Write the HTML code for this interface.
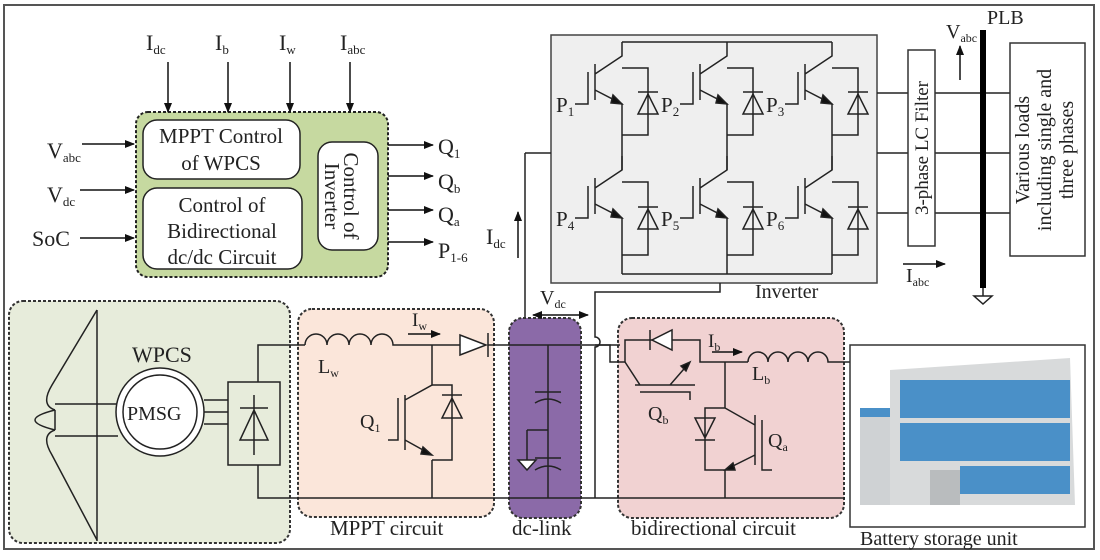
<!DOCTYPE html>
<html><head><meta charset="utf-8"><style>
html,body{margin:0;padding:0;background:#fff}
svg{display:block}
svg text, svg tspan{font-family:"Liberation Serif","Times New Roman","DejaVu Serif",serif;fill:#222}
</style></head><body>
<svg width="1100" height="560" viewBox="0 0 1100 560" xmlns="http://www.w3.org/2000/svg">
<defs>
<marker id="ah" markerWidth="10" markerHeight="10" refX="9" refY="5" orient="auto" markerUnits="userSpaceOnUse"><path d="M0,1 L10,5 L0,9 z" fill="#111"/></marker>
<marker id="as" markerWidth="10" markerHeight="10" refX="1" refY="5" orient="auto" markerUnits="userSpaceOnUse"><path d="M10,1 L0,5 L10,9 z" fill="#111"/></marker>
<g id="igbt" stroke="#222" stroke-width="1.5" fill="none">
 <path d="M27,0 L27,14 L0,32 M0,22 L0,58 M0,48 L27,62 L27,74"/>
 <path d="M-7,30 L-7,62 L-20,62"/>
 <path d="M27,62 l-9,-9 l-2,8 z" fill="#111"/>
</g>
</defs>
<rect x="4" y="5" width="1090" height="544" fill="#fff" stroke="#555" stroke-width="2"/>

<rect x="136" y="112" width="252" height="165" rx="12" fill="#c6d9a0" stroke="#222" stroke-width="2" stroke-dasharray="3,2"/>
<rect x="143" y="120" width="157" height="59" rx="14" fill="#fff" stroke="#222" stroke-width="1.5"/>
<rect x="143" y="188" width="159" height="81" rx="14" fill="#fff" stroke="#222" stroke-width="1.5"/>
<rect x="318" y="142" width="60" height="108" rx="14" fill="#fff" stroke="#222" stroke-width="1.5"/>
<text x="221" y="143" font-size="21" text-anchor="middle">MPPT Control</text>
<text x="221" y="170" font-size="21" text-anchor="middle">of WPCS</text>
<text x="222" y="212" font-size="21" text-anchor="middle">Control of</text>
<text x="222" y="238" font-size="21" text-anchor="middle">Bidirectional</text>
<text x="222" y="264" font-size="21" text-anchor="middle">dc/dc Circuit</text>
<text transform="translate(344,196) rotate(90)" font-size="21" text-anchor="middle">Control of</text>
<text transform="translate(325,196) rotate(90)" font-size="21" text-anchor="middle">Inverter</text>

<g stroke="#111" stroke-width="1.5" marker-end="url(#ah)">
<line x1="168" y1="62" x2="168" y2="112"/><line x1="228" y1="62" x2="228" y2="112"/>
<line x1="290" y1="62" x2="290" y2="112"/><line x1="350" y1="62" x2="350" y2="112"/>
<line x1="82" y1="144" x2="134" y2="144"/><line x1="80" y1="190" x2="134" y2="190"/>
<line x1="80" y1="238" x2="134" y2="238"/>
<line x1="388" y1="145" x2="433" y2="145"/><line x1="388" y1="176" x2="433" y2="176"/>
<line x1="388" y1="210" x2="433" y2="210"/><line x1="388" y1="242" x2="433" y2="242"/>
<line x1="518" y1="258" x2="518" y2="212"/>
</g>
<g font-size="22">
<text x="146" y="50">I<tspan font-size="13" dy="4">dc</tspan></text>
<text x="215" y="50">I<tspan font-size="13" dy="4">b</tspan></text>
<text x="279" y="50">I<tspan font-size="13" dy="4">w</tspan></text>
<text x="340" y="50">I<tspan font-size="13" dy="4">abc</tspan></text>
<text x="47" y="158">V<tspan font-size="13" dy="4">abc</tspan></text>
<text x="47" y="202">V<tspan font-size="13" dy="4">dc</tspan></text>
<text x="32" y="246">SoC</text>
<text x="438" y="154">Q<tspan font-size="13" dy="4">1</tspan></text>
<text x="438" y="189">Q<tspan font-size="13" dy="4">b</tspan></text>
<text x="438" y="222">Q<tspan font-size="13" dy="4">a</tspan></text>
<text x="438" y="258">P<tspan font-size="13" dy="4">1-6</tspan></text>
<text x="486" y="244">I<tspan font-size="13" dy="4">dc</tspan></text>
</g>

<rect x="551" y="35" width="326" height="248" fill="#efefef" stroke="#444" stroke-width="1.5"/>
<g stroke="#222" stroke-width="1.5" fill="none">
<path d="M622,42 L832,42 M622,274 L832,274"/>
<path d="M525,153 L551,153 M525,153 L525,345"/>
<path d="M720,283 L720,292 L595,292 L595,337 a5,5 0 0 1 0,10 L595,498"/>
</g>
<use href="#igbt" x="595" y="42"/><use href="#igbt" x="595" y="156"/>
<use href="#igbt" x="700" y="42"/><use href="#igbt" x="700" y="156"/>
<use href="#igbt" x="805" y="42"/><use href="#igbt" x="805" y="156"/>
<g stroke="#222" stroke-width="1.5" fill="none">
<path d="M622,116 L622,170 M727,116 L727,170 M832,116 L832,170 M622,230 L622,274 M727,230 L727,274 M832,230 L832,274"/>
<path d="M622,68 L648,68 L648,135 L622,135 M727,68 L753,68 L753,135 L727,135 M832,68 L858,68 L858,135 L832,135"/>
<path d="M622,182 L648,182 L648,255 L622,255 M727,182 L753,182 L753,255 L727,255 M832,182 L858,182 L858,255 L832,255"/>
<path d="M638,92 L658,92 M638,114 L658,114 L648,94 z M743,92 L763,92 M743,114 L763,114 L753,94 z M848,92 L868,92 M848,114 L868,114 L858,94 z"/>
<path d="M638,207 L658,207 M638,229 L658,229 L648,209 z M743,207 L763,207 M743,229 L763,229 L753,209 z M848,207 L868,207 M848,229 L868,229 L858,209 z"/>
<path d="M877,93 L1010,93 M877,153 L1010,153 M877,213 L1010,213"/>
</g>
<g font-size="21">
<text x="556" y="112">P<tspan font-size="13" dy="4">1</tspan></text>
<text x="661" y="112">P<tspan font-size="13" dy="4">2</tspan></text>
<text x="766" y="112">P<tspan font-size="13" dy="4">3</tspan></text>
<text x="556" y="226">P<tspan font-size="13" dy="4">4</tspan></text>
<text x="661" y="226">P<tspan font-size="13" dy="4">5</tspan></text>
<text x="766" y="226">P<tspan font-size="13" dy="4">6</tspan></text>
<text x="755" y="298" font-size="20">Inverter</text>
</g>

<rect x="908" y="50" width="27" height="196" fill="#fff" stroke="#333" stroke-width="1.5"/>
<text transform="translate(928,148) rotate(-90)" font-size="19" text-anchor="middle">3-phase LC Filter</text>
<line x1="983" y1="30" x2="983" y2="288" stroke="#000" stroke-width="6"/>
<path d="M983,288 L983,296 M974,296 L992,296 L983,304 z" stroke="#222" stroke-width="1.5" fill="#fff"/>
<text x="987" y="24" font-size="20">PLB</text>
<line x1="960" y1="80" x2="960" y2="46" stroke="#111" stroke-width="1.5" marker-end="url(#ah)"/>
<text x="946" y="38" font-size="20">V<tspan font-size="12" dy="4">abc</tspan></text>
<line x1="903" y1="264" x2="945" y2="264" stroke="#111" stroke-width="1.5" marker-end="url(#ah)"/>
<text x="906" y="282" font-size="20">I<tspan font-size="12" dy="4">abc</tspan></text>
<rect x="1010" y="43" width="75" height="213" fill="#fff" stroke="#333" stroke-width="1.5"/>
<g font-size="20" text-anchor="middle">
<text transform="translate(1029,150) rotate(-90)">Various loads</text>
<text transform="translate(1051,150) rotate(-90)">including single and</text>
<text transform="translate(1073,150) rotate(-90)">three phases</text>
</g>

<rect x="9" y="301" width="281" height="242" rx="14" fill="#e7ecdb" stroke="#333" stroke-width="2" stroke-dasharray="3,2"/>
<rect x="298" y="309" width="196" height="208" rx="14" fill="#fbe6da" stroke="#333" stroke-width="2" stroke-dasharray="3,2"/>
<rect x="509" y="318" width="72" height="200" rx="14" fill="#8b6aa8" stroke="#333" stroke-width="2" stroke-dasharray="3,2"/>
<rect x="618" y="318" width="226" height="200" rx="14" fill="#f1d2d2" stroke="#333" stroke-width="2" stroke-dasharray="3,2"/>
<text x="132" y="362" font-size="22">WPCS</text>
<text x="330" y="535" font-size="21">MPPT circuit</text>
<text x="512" y="535" font-size="21">dc-link</text>
<text x="631" y="535" font-size="21">bidirectional circuit</text>

<g stroke="#222" stroke-width="1.5" fill="none">
<path d="M97,310 L97,541"/>
<path d="M97,310 L52,385 Q40,405 55,410 M97,540 L52,455 Q40,435 55,430"/>
<path d="M55,410 Q15,420 55,430 M55,410 L55,430"/>
<path d="M55,404 L118,404 M55,436 L118,436"/>
<circle cx="160" cy="412" r="44" fill="#fff"/><circle cx="160" cy="412" r="37" fill="#fff"/>
<path d="M204,400 L228,400 M204,412 L228,412 M204,424 L228,424"/>
<rect x="228" y="382" width="52" height="83" fill="#e7ecdb"/>
<path d="M254,395 L254,455 M240,408 L268,408 M240,440 L268,440 L254,410 z"/>
<path d="M258,382 L258,345 L305,345 M258,465 L258,498 L845,498"/>
<path d="M305,345 a11,11 0 0 1 22,0 a11,11 0 0 1 22,0 a11,11 0 0 1 22,0 a11,11 0 0 1 22,0 L460,345 M488,345 L620,345"/>
<path d="M460,335 L460,355 L486,345 z M488,333 L488,357" fill="#fff"/>
<path d="M432,345 L432,385 L405,400 M405,395 L405,450 M432,460 L432,498 M398,398 L398,440 L388,440 M405,440 L432,455"/>
<path d="M432,385 L452,385 L452,460 L432,460 M442,395 L462,395 M442,418 L462,418 L452,398 z"/>
<path d="M432,455 l-9,-8 l-2,7 z" fill="#111"/>
<path d="M548,345 L548,498 M535,403 Q548,395 561,403 M535,392 L561,392 M535,470 Q548,462 561,470 M535,458 L561,458 M527,430 L548,430 M527,430 L527,460"/>
<path d="M518,460 L536,460 L527,470 z" fill="#fff"/>
</g>
<text x="127" y="420" font-size="20">PMSG</text>
<text x="318" y="373" font-size="20">L<tspan font-size="12" dy="4">w</tspan></text>
<text x="412" y="326" font-size="19">I<tspan font-size="12" dy="4">w</tspan></text>
<text x="360" y="428" font-size="20">Q<tspan font-size="12" dy="4">1</tspan></text>
<text x="540" y="304" font-size="20">V<tspan font-size="12" dy="4">dc</tspan></text>
<line x1="408" y1="334" x2="440" y2="334" stroke="#111" stroke-width="1.5" marker-end="url(#ah)"/>
<line x1="533" y1="315" x2="588" y2="315" stroke="#111" stroke-width="1.5" marker-end="url(#ah)" marker-start="url(#as)"/>

<g stroke="#222" stroke-width="1.5" fill="none">
<path d="M595,345 L610,345 L610,362 L625,362 L625,340 L700,340 L700,362 L725,362 L748,362"/>
<path d="M672,330 L672,350 L652,340 z M650,330 L650,350" fill="#fff"/>
<path d="M625,362 L640,385 M690,362 L670,385 M635,385 L695,385 M640,392 L690,392 L690,400"/>
<path d="M748,362 a10,10 0 0 1 20,0 a10,10 0 0 1 20,0 a10,10 0 0 1 20,0 a10,10 0 0 1 20,0 L850,362"/>
<path d="M725,362 L725,408 L755,425 M755,415 L755,465 M762,420 L762,470 L772,470 M755,455 L725,470 L725,498 M725,408 L705,408 L705,470 L725,470 M695,440 L715,440 M695,418 L715,418 L705,438 z"/>
<path d="M690,362 l-9,4 l5,5 z M725,470 l8,-7 l2,7 z" fill="#111"/>
</g>
<line x1="712" y1="352" x2="742" y2="352" stroke="#111" stroke-width="1.5" marker-end="url(#ah)"/>
<text x="708" y="347" font-size="19">I<tspan font-size="12" dy="4">b</tspan></text>
<text x="752" y="380" font-size="20">L<tspan font-size="12" dy="4">b</tspan></text>
<text x="648" y="420" font-size="20">Q<tspan font-size="12" dy="4">b</tspan></text>
<text x="768" y="447" font-size="20">Q<tspan font-size="12" dy="4">a</tspan></text>

<rect x="850" y="345" width="235" height="182" fill="#fff" stroke="#333" stroke-width="1.5"/>
<path d="M890,370 L1070,358 L1075,505 L890,505 z" fill="#d8dadb"/>
<rect x="900" y="380" width="170" height="38" fill="#4a90c8"/>
<rect x="900" y="423" width="170" height="38" fill="#4a90c8"/>
<rect x="960" y="466" width="110" height="28" fill="#4a90c8"/>
<rect x="930" y="470" width="30" height="35" fill="#b9bcbe"/>
<rect x="860" y="412" width="30" height="93" fill="#cfd2d4"/>
<rect x="860" y="408" width="30" height="9" fill="#4a90c8"/>
<text x="860" y="545" font-size="20">Battery storage unit</text>
</svg>
</body></html>
